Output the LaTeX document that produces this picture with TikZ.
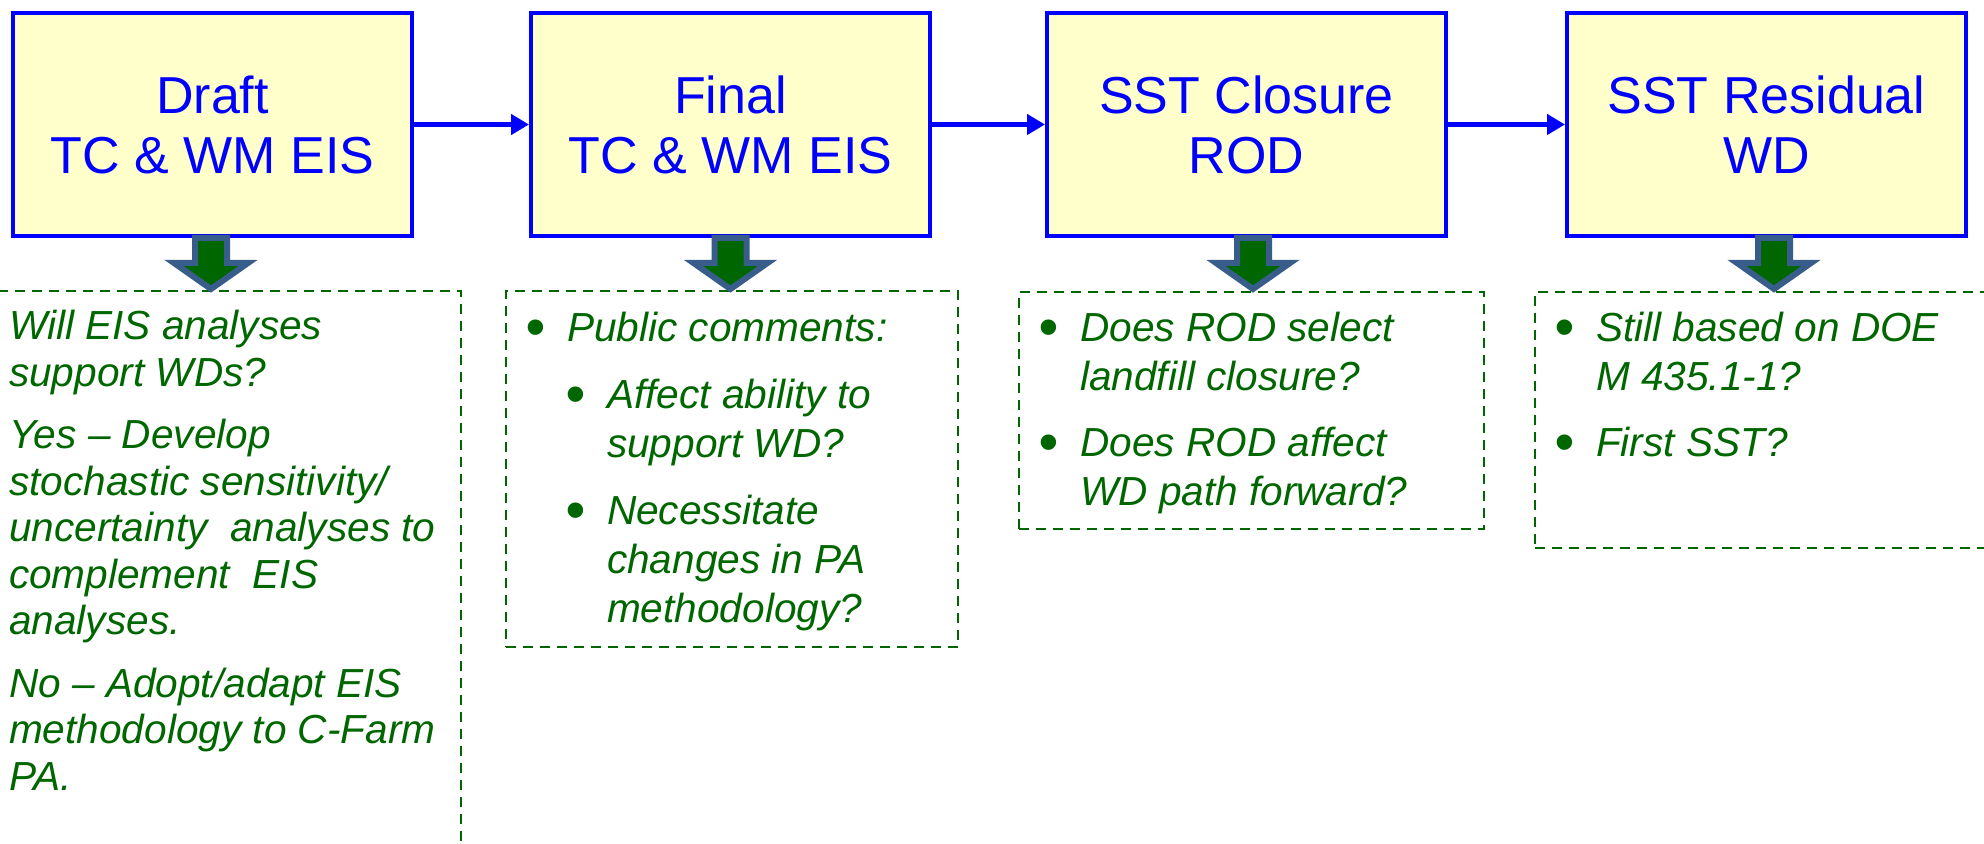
\documentclass[tikz,border=0pt]{standalone}
\usepackage{fontspec}
\setmainfont{Liberation Sans}
\usepackage{graphicx}
\usetikzlibrary{arrows.meta, positioning, calc}

\definecolor{boxblue}{RGB}{0,0,255}
\definecolor{boxfill}{RGB}{255,255,204}
\definecolor{notegreen}{RGB}{0,102,0}
\definecolor{arrowedge}{RGB}{56,93,138}

% bullet used in the note boxes
\newcommand{\blt}{\makebox[21pt][l]{\raisebox{-2.6pt}{\scalebox{1.4}{\textbullet}}}}

\begin{document}
\begin{tikzpicture}[
  x=0.5pt, y=-0.5pt,
  block/.style = {draw=boxblue, fill=boxfill, line width=2pt, minimum width=199.5pt, minimum height=111.5pt, inner sep=0pt, align=center, text=boxblue, font=\fontsize{26}{30}\selectfont},
  link/.style = {draw=boxblue, line width=2.5pt, -{Triangle[length=9pt, width=10pt]}},
  note/.style = {draw=notegreen, line width=1.3pt, dash pattern=on 5pt off 3.5pt, inner sep=0pt},
  notetext/.style = {anchor=north west, align=left, inner sep=0pt, text=notegreen, font=\itshape\fontsize{20.3}{24.5}\selectfont},
  fatarrow/.style = {draw=arrowedge, fill=notegreen, line width=3pt, line join=miter}
]
  \useasboundingbox (0,0) rectangle (1984,844);

  % Stages
  \node[block] (draft) at (212.5,124.5) {Draft\\TC \& WM EIS};
  \node[block, right=57.5pt of draft] (final) {Final\\TC \& WM EIS};
  \node[block, right=56.5pt of final] (rod) {SST Closure\\ROD};
  \node[block, right=58.5pt of rod] (wd) {SST Residual\\WD};

  \draw[link] (draft) -- (final);
  \draw[link] (final) -- (rod);
  \draw[link] (rod) -- (wd);

  % Question boxes
  \node[note, minimum width=232pt, minimum height=289.5pt] (draftnote) at (229,580.5) {};
  \node[note, minimum width=226pt, minimum height=178pt] (finalnote) at (732,469) {};
  \node[note, minimum width=232.5pt, minimum height=118.5pt] (rodnote) at (1251.5,410.5) {};
  \node[note, minimum width=232.5pt, minimum height=128pt] (wdnote) at (1767.5,420) {};

  % Block arrows from stages to questions
  \foreach \blk/\dx in {draft/-1.5, final/0, rod/6.5, wd/7.5}
    \draw[fatarrow] ($(\blk.south)+(\dx,0)$) ++(-16,0) -- ++(0,25) -- ++(-21,0) -- ++(37,26) -- ++(37,-26) -- ++(-21,0) -- ++(0,-25) -- cycle;

  % Question texts
  \node[notetext, font=\itshape\fontsize{20.3}{23.25}\selectfont] (drafttext) at ($(draftnote.north west)+(13,20)$)
    {Will EIS analyses\\support WDs?\\[8pt]
     Yes -- Develop\\stochastic sensitivity/\\uncertainty\ \ analyses to\\complement\ \ EIS\\analyses.\\[8pt]
     No -- Adopt/adapt EIS\\methodology to C-Farm\\PA.};
  \node[notetext] (finaltext) at ($(finalnote.north west)+(20,22)$)
    {\blt Public comments:\\[9pt]
     \hspace*{20pt}\blt Affect ability to\\\hspace*{41pt}support WD?\\[9pt]
     \hspace*{20pt}\blt Necessitate\\\hspace*{41pt}changes in PA\\\hspace*{41pt}methodology?};
  \node[notetext] (rodtext) at ($(rodnote.north west)+(20,21)$)
    {\blt Does ROD select\\\hspace*{21pt}landfill closure?\\[8.5pt]
     \blt Does ROD affect\\\hspace*{21pt}WD path forward?};
  \node[notetext] (wdtext) at ($(wdnote.north west)+(20,21)$)
    {\blt Still based on DOE\\\hspace*{21pt}M 435.1-1?\\[8.5pt]
     \blt First SST?};

\end{tikzpicture}
\end{document}
